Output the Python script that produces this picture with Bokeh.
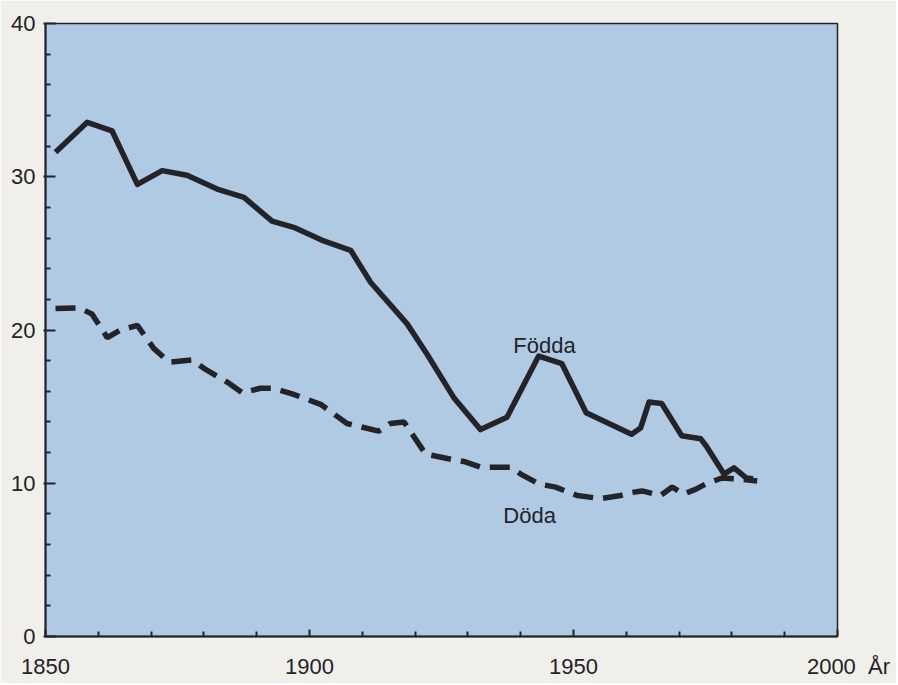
from bokeh.plotting import figure
from bokeh.models import Range1d, FixedTicker
from bokeh.core.properties import value
from bokeh.embed import file_html
from bokeh.resources import INLINE

# Födda (births per 1000)
fodda_year = [1851.9, 1857.9, 1862.6, 1867.4, 1872.1, 1876.8, 1882.5, 1887.6, 1892.9, 1897.0,
              1902.4, 1907.8, 1911.6, 1918.5, 1922.3, 1927.3, 1932.4, 1937.4, 1943.4, 1947.8,
              1952.4, 1961.0, 1962.7, 1964.3, 1966.7, 1970.5, 1974.1, 1975.2, 1978.5, 1980.4,
              1982.7, 1984.0]
fodda_val = [31.6, 33.55, 33.0, 29.5, 30.4, 30.1, 29.2, 28.65, 27.1, 26.7,
             25.85, 25.2, 23.1, 20.4, 18.4, 15.6, 13.5, 14.3, 18.3, 17.8,
             14.6, 13.2, 13.6, 15.3, 15.2, 13.1, 12.9, 12.4, 10.6, 11.0,
             10.35, 10.3]

# Döda (deaths per 1000)
doda_year = [1851.9, 1856.3, 1858.8, 1861.7, 1864.2, 1867.4, 1870.5, 1873.4, 1877.8, 1880.0,
             1884.4, 1887.3, 1890.7, 1893.2, 1897.0, 1902.1, 1907.1, 1913.1, 1915.3, 1917.9,
             1922.0, 1927.0, 1929.5, 1932.4, 1938.1, 1940.0, 1943.5, 1946.6, 1950.7, 1955.1,
             1958.9, 1961.1, 1963.0, 1966.5, 1968.7, 1970.9, 1973.1, 1975.3, 1978.2, 1980.4,
             1984.8]
doda_val = [21.4, 21.45, 21.05, 19.5, 20.0, 20.3, 18.8, 17.9, 18.05, 17.5,
            16.6, 15.9, 16.2, 16.2, 15.8, 15.15, 13.9, 13.4, 13.9, 14.0,
            11.9, 11.55, 11.4, 11.05, 11.05, 10.6, 9.95, 9.75, 9.2, 9.0,
            9.2, 9.4, 9.5, 9.2, 9.75, 9.3, 9.6, 10.0, 10.35, 10.3,
            10.15]

x_major = [1850, 1900, 1950, 2000]
x_minor = [1860, 1870, 1880, 1890, 1910, 1920, 1930, 1940, 1960, 1970, 1980, 1990]
x_labels = {2000: "\u20032000\u00a0\u00a0År"}
y_major = [0, 10, 20, 30, 40]
y_minor = [2, 4, 6, 8, 12, 14, 16, 18, 22, 24, 26, 28, 32, 34, 36, 38]

series_labels = ["Födda", "Döda"]
label_pos = [(1938.6, 19.0), (1936.7, 7.9)]

INK = "#232328"
FONT = "Liberation Sans"

p = figure(width=896, height=683, output_backend="svg", toolbar_location=None,
           x_range=Range1d(1850, 2000), y_range=Range1d(0, 40),
           min_border_left=45, min_border_right=59, min_border_top=23, min_border_bottom=47)

p.background_fill_color = "#b1cae3"
p.border_fill_color = "#f0efea"
p.outline_line_color = INK
p.outline_line_width = 1.5
p.grid.visible = False

p.line(fodda_year, fodda_val, line_color=INK, line_width=5.5, line_join="round")
p.line(doda_year, doda_val, line_color=INK, line_width=5.5, line_dash="20 10")

for txt, (lx, ly) in zip(series_labels, label_pos):
    p.text(x=[lx], y=[ly], text=[txt], text_font=value(FONT), text_font_size="22px",
           text_color=INK, text_align="left", text_baseline="alphabetic")

xa = p.xaxis[0]
xa.ticker = FixedTicker(ticks=x_major, minor_ticks=x_minor)
xa.major_label_overrides = x_labels
xa.axis_line_color = INK
xa.axis_line_width = 2
xa.major_tick_line_color = INK
xa.major_tick_line_width = 2
xa.major_tick_in = 7
xa.major_tick_out = 0
xa.minor_tick_line_color = INK
xa.minor_tick_line_width = 2
xa.minor_tick_in = 5
xa.minor_tick_out = 0
xa.major_label_text_font = FONT
xa.major_label_text_font_size = "22px"
xa.major_label_text_color = INK
xa.major_label_standoff = 17

ya = p.yaxis[0]
ya.ticker = FixedTicker(ticks=y_major, minor_ticks=y_minor)
ya.axis_line_color = INK
ya.axis_line_width = 2
ya.major_tick_line_color = INK
ya.major_tick_line_width = 2
ya.major_tick_in = 10
ya.major_tick_out = 2
ya.minor_tick_line_color = INK
ya.minor_tick_line_width = 2
ya.minor_tick_in = 5
ya.minor_tick_out = 0
ya.major_label_text_font = FONT
ya.major_label_text_font_size = "22px"
ya.major_label_text_color = INK
ya.major_label_standoff = 8

open("out.html", "w").write(file_html(p, INLINE))
